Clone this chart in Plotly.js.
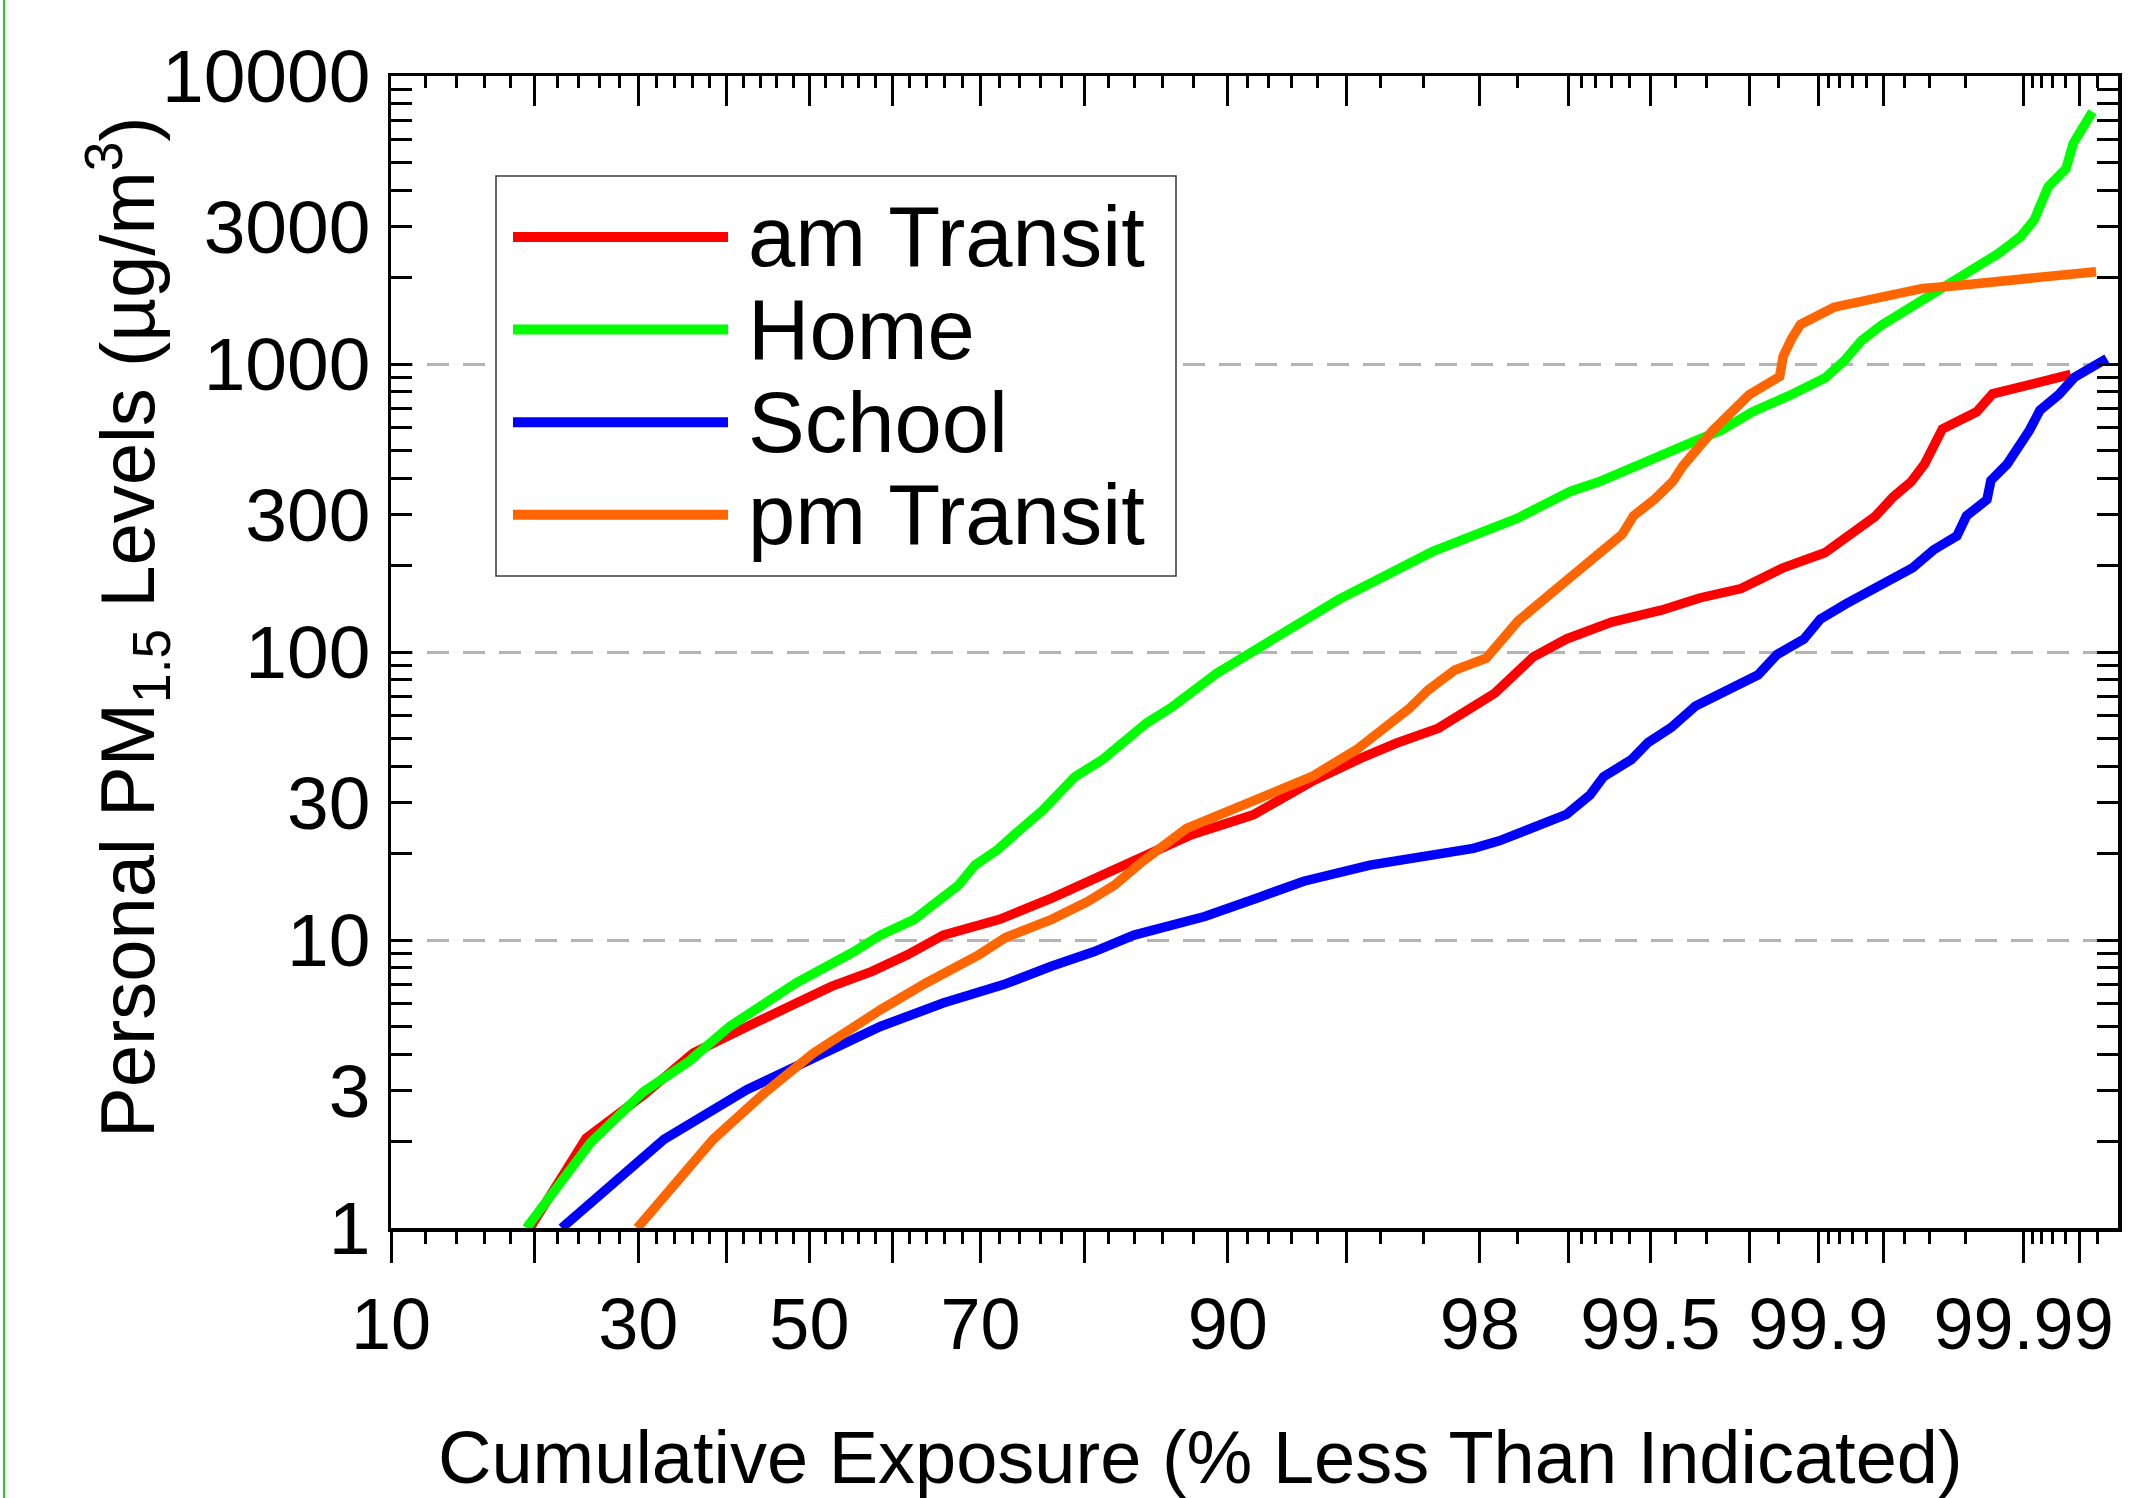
<!DOCTYPE html>
<html>
<head>
<meta charset="utf-8">
<script src="https://cdn.plot.ly/plotly-3.0.1.min.js"></script>
<style>
  html, body { margin: 0; padding: 0; background: #ffffff; }
  #chart { position: absolute; left: 0; top: 0; width: 2154px; height: 1498px; }
  #edge { position: absolute; left: 3px; top: 0; width: 2px; height: 1498px; background: #22cc22; }
</style>
</head>
<body>
<div id="chart"></div>
<div id="edge"></div>
<script>
// Cumulative exposure (% of samples less than indicated) and personal PM1.5 level (µg/m³)
const amTransitPct = [19.6, 24.7, 30.6, 36.1, 42.4, 47.8, 52.7, 57.6, 61.8, 65.9, 72.0, 77.1, 80.7, 83.9, 87.9, 91.3, 93.8, 95.44, 96.4, 97.3, 97.8, 98.21, 98.67, 98.98, 99.30, 99.55, 99.68, 99.784, 99.857, 99.9065, 99.945, 99.955, 99.963, 99.9682, 99.974, 99.9825, 99.9855, 99.9944];
const amTransitPM  = [1.0, 2.05, 2.9, 4.05, 5.0, 5.96, 6.9, 7.78, 8.88, 10.4, 11.8, 13.97, 16.2, 18.7, 23.2, 27.2, 35.5, 42.8, 48.3, 54.4, 62.1, 71.9, 96.2, 111, 127, 140, 154, 166, 196, 221, 295, 346, 390, 450, 595, 682, 788, 920];

const homePct = [19.3, 25.1, 30.6, 35.6, 40.3, 44.5, 48.4, 55.4, 58.6, 62.6, 65.4, 67.6, 69.4, 71.8, 73.3, 76.3, 79.2, 81.5, 84.9, 86.7, 89.4, 92.35, 94.74, 95.7, 97.18, 98.49, 99.01, 99.22, 99.43, 99.65, 99.74, 99.806, 99.868, 99.907, 99.924, 99.9365, 99.949, 99.9632, 99.976, 99.982, 99.9865, 99.9896, 99.9912, 99.9926, 99.99407, 99.99458, 99.99504, 99.99575];
const homePM  = [1.0, 1.97, 2.98, 3.79, 5.0, 6.0, 7.1, 9.1, 10.4, 11.8, 13.8, 15.5, 18.2, 20.6, 22.9, 28.3, 36.9, 42.2, 56.6, 64.6, 84.4, 113, 152, 173, 223, 291, 361, 390, 445, 531, 590, 682, 782, 895, 1030, 1208, 1366, 1575, 1906, 2148, 2422, 2766, 3161, 4126, 4775, 5834, 6491, 7511];

const schoolPct = [22.4, 32.8, 42.4, 51.1, 58.6, 65.9, 72.4, 77.0, 80.8, 84.0, 88.7, 91.5, 93.5, 95.7, 97.9, 98.27, 98.54, 98.98, 99.16, 99.25, 99.41, 99.49, 99.585, 99.668, 99.817, 99.848, 99.884, 99.902, 99.925, 99.9636, 99.9712, 99.978, 99.9803, 99.9845, 99.9852, 99.9878, 99.9907, 99.9918, 99.9935, 99.99465, 99.99646];
const schoolPM  = [1.0, 2.03, 3.02, 3.94, 5.01, 6.04, 7.0, 8.09, 9.1, 10.4, 12.07, 14.0, 16.0, 18.2, 20.8, 22.1, 23.8, 27.3, 31.9, 36.9, 42.3, 48.5, 54.7, 65, 83.3, 98, 110.8, 130, 147, 196, 226, 253, 297, 338, 394, 449, 590, 690, 782, 898, 1045];

const pmTransitPct = [29.9, 38.4, 44.5, 50.5, 58.6, 63.9, 69.8, 72.6, 77.1, 80.3, 82.5, 84.6, 87.6, 92.35, 93.8, 95.3, 96.7, 97.1, 97.6, 98.09, 98.5, 98.92, 99.11, 99.36, 99.42, 99.52, 99.59, 99.627, 99.716, 99.758, 99.80, 99.852, 99.857, 99.869, 99.880, 99.915, 99.9675, 99.977, 99.99594];
const pmTransitPM  = [1.0, 2.03, 2.94, 4.05, 5.72, 7.08, 8.88, 10.2, 11.8, 13.6, 15.5, 18.7, 24.4, 32.4, 36.9, 45.7, 63.8, 73.9, 86.6, 95.1, 128, 169, 196, 256, 297, 340, 390, 443, 585, 666, 782, 905, 1062, 1228, 1372, 1575, 1831, 1866, 2092];

const seriesNames = ['am Transit', 'Home', 'School', 'pm Transit'];

// Probability-axis ticks (percent)
const xRangePct  = [10, 99.99694];
const xMajorPct  = [10, 20, 30, 40, 50, 60, 70, 80, 90, 95, 98, 99, 99.5, 99.8, 99.9, 99.95, 99.99, 99.995];
const xLabelPct  = [10, 30, 50, 70, 90, 98, 99.5, 99.9, 99.99];
const xMinorPct  = [12, 14, 16, 18, 22, 24, 26, 28, 32, 34, 36, 38, 42, 44, 46, 48, 52, 54, 56, 58,
                    62, 64, 66, 68, 72, 74, 76, 78, 82, 84, 86, 88, 91, 92, 93, 94, 96, 97, 98.5,
                    99.1, 99.2, 99.3, 99.4, 99.6, 99.7, 99.85, 99.91, 99.92, 99.93, 99.94,
                    99.96, 99.97, 99.98, 99.991, 99.992, 99.993, 99.994, 99.996];

// Log-axis ticks (µg/m³)
const yLabelVals = [1, 3, 10, 30, 100, 300, 1000, 3000, 10000];
const yGridVals  = [10, 100, 1000];
const yDecades   = [1, 10, 100, 1000];
const yMinorMult = [2, 4, 5, 6, 7, 8, 9];

const xTitle = 'Cumulative Exposure (% Less Than Indicated)';
const yTitle = 'Personal PM<sub>1.5</sub> Levels (µg/m<sup>3</sup>)';

// ---- styling ----
const FONT = 'Liberation Sans, Arial, Helvetica, sans-serif';
const COLORS = ['#ff0000', '#00ff00', '#0000ff', '#ff6600'];
const W = 2154, H = 1498;
const M = { l: 391, r: 36, t: 76, b: 270 };

// Inverse standard normal CDF (Acklam's rational approximation), percent -> z
function probit(pct) {
  const p = pct / 100;
  const a = [-3.969683028665376e+01, 2.209460984245205e+02, -2.759285104469687e+02, 1.383577518672690e+02, -3.066479806614716e+01, 2.506628277459239e+00];
  const b = [-5.447609879822406e+01, 1.615858368580409e+02, -1.556989798598866e+02, 6.680131188771972e+01, -1.328068155288572e+01];
  const c = [-7.784894002430293e-03, -3.223964580411365e-01, -2.400758277161838e+00, -2.549732539343734e+00, 4.374664141464968e+00, 2.938163982698783e+00];
  const d = [7.784695709041462e-03, 3.224671290700398e-01, 2.445134137142996e+00, 3.754408661907416e+00];
  const pl = 0.02425;
  let q, r;
  if (p < pl) {
    q = Math.sqrt(-2 * Math.log(p));
    return (((((c[0]*q + c[1])*q + c[2])*q + c[3])*q + c[4])*q + c[5]) / ((((d[0]*q + d[1])*q + d[2])*q + d[3])*q + 1);
  }
  if (p <= 1 - pl) {
    q = p - 0.5; r = q * q;
    return (((((a[0]*r + a[1])*r + a[2])*r + a[3])*r + a[4])*r + a[5])*q / (((((b[0]*r + b[1])*r + b[2])*r + b[3])*r + b[4])*r + 1);
  }
  q = Math.sqrt(-2 * Math.log(1 - p));
  return -(((((c[0]*q + c[1])*q + c[2])*q + c[3])*q + c[4])*q + c[5]) / ((((d[0]*q + d[1])*q + d[2])*q + d[3])*q + 1);
}

const seriesPct = [amTransitPct, homePct, schoolPct, pmTransitPct];
const seriesPM  = [amTransitPM, homePM, schoolPM, pmTransitPM];

const traces = seriesNames.map((name, i) => ({
  type: 'scatter', mode: 'lines', name: name,
  x: seriesPct[i].map(probit), y: seriesPM[i],
  line: { color: COLORS[i], width: 9.5 },
  showlegend: false, hoverinfo: 'skip'
}));
// companion trace so the top/right overlay axes get drawn
traces.push({ type: 'scatter', mode: 'lines', x: [], y: [], xaxis: 'x2', yaxis: 'y2', showlegend: false, hoverinfo: 'skip' });

const xRange = xRangePct.map(probit);
const yMinorVals = [];
yDecades.forEach(d => yMinorMult.forEach(m => yMinorVals.push(m * d)));

const xTickCommon = {
  type: 'linear', range: xRange, tickmode: 'array',
  tickvals: xMajorPct.map(probit), tickwidth: 3, tickcolor: '#000',
  showline: true, linewidth: 3.5, linecolor: '#000',
  showgrid: false, zeroline: false, fixedrange: true
};

// pixel -> paper helpers for the key and the axis captions
const plotW = W - M.l - M.r, plotH = H - M.t - M.b;
const px = X => (X - M.l) / plotW;
const py = Y => (H - M.b - Y) / plotH;

// Legend drawn as a framed key with long line samples
const legendBox = { x0: 496, x1: 1176, y0: 176, y1: 576 };
const legendRow0 = 237, legendRowStep = 92.6;
const legendLineX = [513, 728], legendTextX = 746;

const shapes = [{
  type: 'rect', xref: 'paper', yref: 'paper', layer: 'above',
  x0: px(legendBox.x0), x1: px(legendBox.x1), y0: py(legendBox.y1), y1: py(legendBox.y0),
  line: { color: '#3a3a3a', width: 1.5 }, fillcolor: '#ffffff'
}];
const annotations = [];
seriesNames.forEach((name, i) => {
  const yy = py(legendRow0 + i * legendRowStep);
  shapes.push({
    type: 'line', xref: 'paper', yref: 'paper', layer: 'above',
    x0: px(legendLineX[0]), x1: px(legendLineX[1]), y0: yy, y1: yy,
    line: { color: COLORS[i], width: 10 }
  });
  annotations.push({
    xref: 'paper', yref: 'paper', x: px(legendTextX), y: yy,
    xanchor: 'left', yanchor: 'middle', showarrow: false,
    text: name, font: { family: FONT, size: 85, color: '#000' }
  });
});

// Axis captions
annotations.push({
  xref: 'paper', yref: 'paper', x: px(1200), y: py(1457),
  xanchor: 'center', yanchor: 'middle', showarrow: false,
  text: xTitle, font: { family: FONT, size: 74, color: '#000' }
});
annotations.push({
  xref: 'paper', yref: 'paper', x: px(127), y: py(627),
  xanchor: 'center', yanchor: 'middle', showarrow: false, textangle: -90,
  text: yTitle, font: { family: FONT, size: 76, color: '#000' }
});

const layout = {
  width: W, height: H,
  margin: M,
  paper_bgcolor: '#ffffff', plot_bgcolor: '#ffffff',
  font: { family: FONT, color: '#000' },
  showlegend: false,
  xaxis: Object.assign({}, xTickCommon, {
    ticktext: xMajorPct.map(p => xLabelPct.includes(p) ? String(p) : ''),
    ticks: 'outside', ticklen: 31,
    minor: { tickmode: 'array', tickvals: xMinorPct.map(probit), ticks: 'outside', ticklen: 12, tickwidth: 3, tickcolor: '#000', showgrid: false },
    tickfont: { family: FONT, size: 72, color: '#000' },
    ticklabelstandoff: 0
  }),
  xaxis2: Object.assign({}, xTickCommon, {
    overlaying: 'x', side: 'top', anchor: 'y',
    ticks: 'inside', ticklen: 30, showticklabels: false,
    minor: { tickmode: 'array', tickvals: xMinorPct.map(probit), ticks: 'inside', ticklen: 12, tickwidth: 3, tickcolor: '#000', showgrid: false }
  }),
  yaxis: {
    type: 'log', range: [0, 4], tickmode: 'array',
    tickvals: yLabelVals, ticktext: yLabelVals.map(String),
    ticks: 'inside', ticklen: 21, tickwidth: 3, tickcolor: '#000',
    minor: { tickmode: 'array', tickvals: yMinorVals, ticks: 'inside', ticklen: 21, tickwidth: 3, tickcolor: '#000', showgrid: false },
    showline: true, linewidth: 3.5, linecolor: '#000', mirror: 'ticks',
    showgrid: false, zeroline: false, fixedrange: true,
    tickfont: { family: FONT, size: 75, color: '#000' },
    ticklabelstandoff: 2
  },
  yaxis2: {
    type: 'log', range: [0, 4], overlaying: 'y', side: 'right', anchor: 'x',
    tickmode: 'array', tickvals: yGridVals, ticks: '', showticklabels: false,
    showline: false, zeroline: false, fixedrange: true,
    showgrid: true, gridcolor: '#b4b4b4', gridwidth: 3, griddash: '22px,14px'
  },
  shapes: shapes,
  annotations: annotations
};

Plotly.newPlot('chart', traces, layout, { staticPlot: true, displayModeBar: false });
</script>
</body>
</html>
